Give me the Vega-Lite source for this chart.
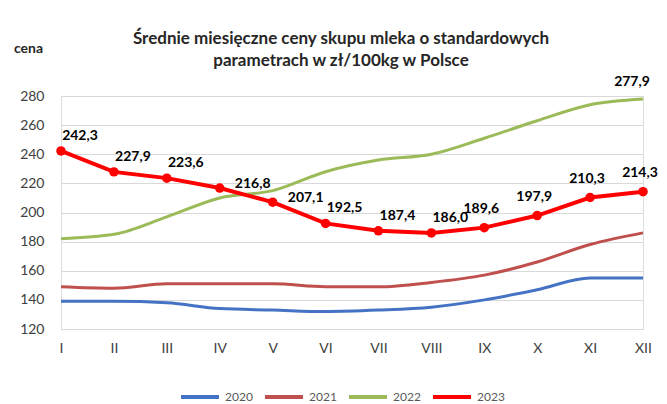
{
  "$schema": "https://vega.github.io/schema/vega-lite/v6.json",
  "width": 582,
  "height": 233,
  "autosize": "none",
  "padding": {"left": 61, "top": 96, "right": 24, "bottom": 75},
  "background": "white",
  "title": {
    "text": ["Średnie miesięczne ceny  skupu mleka o standardowych", "parametrach  w zł/100kg w Polsce"],
    "font": "Lato", "fontSize": 17, "fontWeight": "bold", "color": "#262626",
    "anchor": "middle", "dx": -11, "offset": -29, "lineHeight": 22
  },
  "data": {"values": [
    {"month": "I", "year": "2020", "value": 139}, {"month": "II", "year": "2020", "value": 139}, {"month": "III", "year": "2020", "value": 138}, {"month": "IV", "year": "2020", "value": 134}, {"month": "V", "year": "2020", "value": 133}, {"month": "VI", "year": "2020", "value": 132}, {"month": "VII", "year": "2020", "value": 133}, {"month": "VIII", "year": "2020", "value": 135}, {"month": "IX", "year": "2020", "value": 140}, {"month": "X", "year": "2020", "value": 147}, {"month": "XI", "year": "2020", "value": 155}, {"month": "XII", "year": "2020", "value": 155},
    {"month": "I", "year": "2021", "value": 149}, {"month": "II", "year": "2021", "value": 148}, {"month": "III", "year": "2021", "value": 151}, {"month": "IV", "year": "2021", "value": 151}, {"month": "V", "year": "2021", "value": 151}, {"month": "VI", "year": "2021", "value": 149}, {"month": "VII", "year": "2021", "value": 149}, {"month": "VIII", "year": "2021", "value": 152}, {"month": "IX", "year": "2021", "value": 157}, {"month": "X", "year": "2021", "value": 166}, {"month": "XI", "year": "2021", "value": 178}, {"month": "XII", "year": "2021", "value": 186},
    {"month": "I", "year": "2022", "value": 182}, {"month": "II", "year": "2022", "value": 185}, {"month": "III", "year": "2022", "value": 197}, {"month": "IV", "year": "2022", "value": 210}, {"month": "V", "year": "2022", "value": 215}, {"month": "VI", "year": "2022", "value": 228}, {"month": "VII", "year": "2022", "value": 236}, {"month": "VIII", "year": "2022", "value": 240}, {"month": "IX", "year": "2022", "value": 251}, {"month": "X", "year": "2022", "value": 263}, {"month": "XI", "year": "2022", "value": 274}, {"month": "XII", "year": "2022", "value": 277.9},
    {"month": "I", "year": "2023", "value": 242.3}, {"month": "II", "year": "2023", "value": 227.9}, {"month": "III", "year": "2023", "value": 223.6}, {"month": "IV", "year": "2023", "value": 216.8}, {"month": "V", "year": "2023", "value": 207.1}, {"month": "VI", "year": "2023", "value": 192.5}, {"month": "VII", "year": "2023", "value": 187.4}, {"month": "VIII", "year": "2023", "value": 186.0}, {"month": "IX", "year": "2023", "value": 189.6}, {"month": "X", "year": "2023", "value": 197.9}, {"month": "XI", "year": "2023", "value": 210.3}, {"month": "XII", "year": "2023", "value": 214.3}
  ]},
  "transform": [
    {"calculate": "replace(format(datum.value, '.1f'), '.', ',')", "as": "label"}
  ],
  "encoding": {
    "x": {
      "field": "month", "type": "ordinal",
      "sort": ["I", "II", "III", "IV", "V", "VI", "VII", "VIII", "IX", "X", "XI", "XII"],
      "scale": {"type": "point", "padding": 0},
      "axis": {"title": null, "grid": false, "ticks": false, "domain": false, "labelAngle": 0,
        "labelFont": "Lato", "labelFontSize": 14, "labelColor": "#404040", "labelPadding": 12}
    },
    "y": {
      "field": "value", "type": "quantitative",
      "scale": {"domain": [120, 280], "nice": false, "zero": false},
      "axis": {"values": [120, 140, 160, 180, 200, 220, 240, 260, 280], "grid": true, "gridColor": "#d9d9d9",
        "domain": false, "ticks": false, "labelFont": "Lato", "labelFontSize": 14, "labelColor": "#404040",
        "labelPadding": 17, "title": "cena", "titleAngle": 0, "titleX": -33, "titleY": -48,
        "titleAlign": "center", "titleBaseline": "middle", "titleFont": "Lato", "titleFontSize": 14,
        "titleFontWeight": "bold", "titleColor": "#262626"}
    },
    "color": {
      "field": "year", "type": "nominal",
      "scale": {"domain": ["2020", "2021", "2022", "2023"], "range": ["#4472C4", "#C0504D", "#9BBB59", "#FF0000"]},
      "legend": {"title": null, "orient": "none", "legendX": 118, "legendY": 280, "direction": "horizontal",
        "symbolType": "stroke", "symbolSize": 1444, "symbolStrokeWidth": 4, "labelFont": "Lato",
        "labelFontSize": 12, "labelColor": "#595959", "labelOffset": 4, "columnPadding": 4}
    }
  },
  "layer": [
    {"transform": [{"filter": "datum.year != '2023'"}],
     "mark": {"type": "line", "strokeWidth": 3, "interpolate": "monotone"}},
    {"transform": [{"filter": "datum.year == '2023'"}],
     "mark": {"type": "line", "strokeWidth": 4}},
    {"transform": [{"filter": "datum.year == '2023'"}],
     "mark": {"type": "point", "filled": true, "size": 90, "opacity": 1, "shape": "circle"}},
    {"transform": [{"filter": "datum.year == '2023' && indexof(['I','II','III','VI','VII','VIII'], datum.month) >= 0"}],
     "mark": {"type": "text", "font": "Lato", "fontSize": 14, "fontWeight": "bold", "dx": 19, "dy": -15},
     "encoding": {"text": {"field": "label"}, "color": {"value": "#000000"}}},
    {"transform": [{"filter": "datum.year == '2023' && indexof(['IV','V'], datum.month) >= 0"}],
     "mark": {"type": "text", "font": "Lato", "fontSize": 14, "fontWeight": "bold", "dx": 33, "dy": -4},
     "encoding": {"text": {"field": "label"}, "color": {"value": "#000000"}}},
    {"transform": [{"filter": "datum.year == '2023' && indexof(['IX','X','XI','XII'], datum.month) >= 0"}],
     "mark": {"type": "text", "font": "Lato", "fontSize": 14, "fontWeight": "bold", "dx": -3, "dy": -19},
     "encoding": {"text": {"field": "label"}, "color": {"value": "#000000"}}},
    {"transform": [{"filter": "datum.year == '2022' && datum.month == 'XII'"}],
     "mark": {"type": "text", "font": "Lato", "fontSize": 14, "fontWeight": "bold", "dx": -11, "dy": -17},
     "encoding": {"text": {"field": "label"}, "color": {"value": "#000000"}}}
  ]
}
